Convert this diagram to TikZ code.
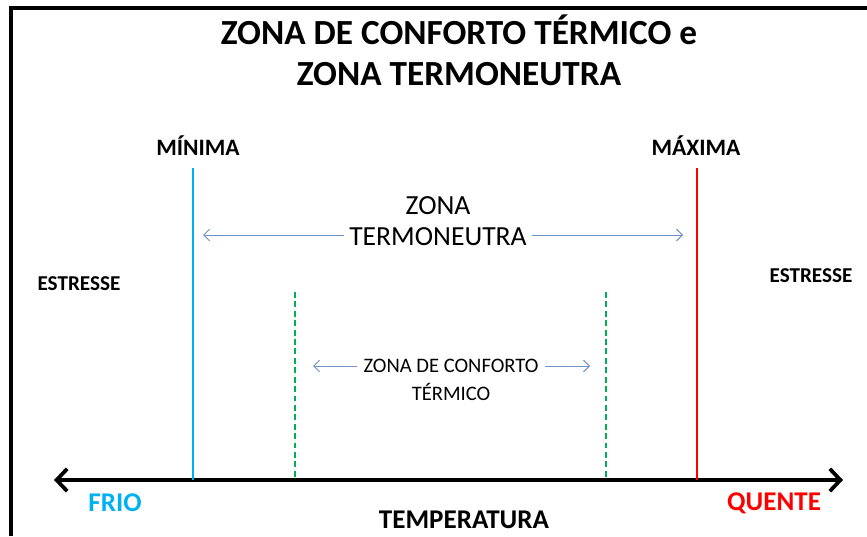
\documentclass[tikz,border=0pt]{standalone}
\usepackage{fontspec}
\setmainfont{Carlito}
\usetikzlibrary{arrows.meta}
\definecolor{frio}{RGB}{0,176,240}
\definecolor{quente}{RGB}{255,0,0}
\definecolor{conforto}{RGB}{0,176,80}
\definecolor{zona}{RGB}{110,145,200}
\tikzset{
  limite/.style={line width=1.2pt},
  conf/.style={conforto, line width=1.2pt, dash pattern=on 5pt off 3pt},
  zonaseta/.style={zona, line width=0.8pt, -{Straight Barb[length=5pt,width=10pt]}},
  rotulo/.style={font=\bfseries\fontsize{20}{22}\selectfont, inner sep=1pt},
  zonatexto/.style={font=\fontsize{23.5}{26}\selectfont, inner sep=1pt}
}
\begin{document}
\begin{tikzpicture}[x = .85pt, y = -.85pt]
	\useasboundingbox (0,0) rectangle (867,536);
	\draw[line width=3.4pt] (10.5,536) -- (10.5,8.5) -- (867,8.5); %frame
	\node[font=\bfseries\fontsize{30}{35}\selectfont, align=center, inner sep=0pt] (title) at (459,50) {ZONA DE CONFORTO TÉRMICO e\\ZONA TERMONEUTRA};
	% temperature axis
	\coordinate (eixoL) at (54,480);
	\coordinate (eixoR) at (843,480);
	\draw[line width=3.2pt, {Straight Barb[length=9pt,width=19pt]}-{Straight Barb[length=9pt,width=19pt]}] (eixoL) -- (eixoR);
	\node[rotulo, frio, font=\bfseries\fontsize{23}{25}\selectfont] (frio) at (115,503) {FRIO};
	\node[rotulo, quente, font=\bfseries\fontsize{23}{25}\selectfont] (quente) at (774,503) {QUENTE};
	\node[rotulo, font=\bfseries\fontsize{23}{25}\selectfont] (temp) at (464,520) {TEMPERATURA};
	% limits
	\node[rotulo] (minima) at (198,146) {MÍNIMA};
	\node[rotulo] (maxima) at (696,146) {MÁXIMA};
	\coordinate (minT) at (193,168); \coordinate (minB) at (193,480);
	\coordinate (maxT) at (697,168); \coordinate (maxB) at (697,480);
	\draw[limite, frio] (minT) -- (minB);
	\draw[limite, quente] (maxT) -- (maxB);
	\coordinate (c1T) at (295,292); \coordinate (c1B) at (295,480);
	\coordinate (c2T) at (606,292); \coordinate (c2B) at (606,480);
	\draw[conf] (c1T) -- (c1B);
	\draw[conf] (c2T) -- (c2B);
	\node[rotulo, font=\bfseries\fontsize{18}{20}\selectfont] (estL) at (79,284) {ESTRESSE};
	\node[rotulo, font=\bfseries\fontsize{18}{20}\selectfont] (estR) at (811,276) {ESTRESSE};
	% zona termoneutra
	\node[zonatexto] (tn1) at (438,206) {ZONA};
	\node[zonatexto, inner sep=4pt] (tn2) at (438,237) {TERMONEUTRA};
	\coordinate (tnL) at (203,235); \coordinate (tnR) at (683,235);
	\draw[zonaseta] (tn2.west |- tnL) -- (tnL);
	\draw[zonaseta] (tn2.east |- tnR) -- (tnR);
	% zona de conforto termico
	\node[zonatexto, font=\fontsize{17.5}{19}\selectfont, inner sep=5pt] (zc1) at (451,366) {ZONA DE CONFORTO};
	\node[zonatexto, font=\fontsize{17.5}{19}\selectfont] (zc2) at (451,392) {TÉRMICO};
	\coordinate (zcL) at (313,366); \coordinate (zcR) at (590,366);
	\draw[zonaseta] (zc1.west |- zcL) -- (zcL);
	\draw[zonaseta] (zc1.east |- zcR) -- (zcR);
\end{tikzpicture}
\end{document}
